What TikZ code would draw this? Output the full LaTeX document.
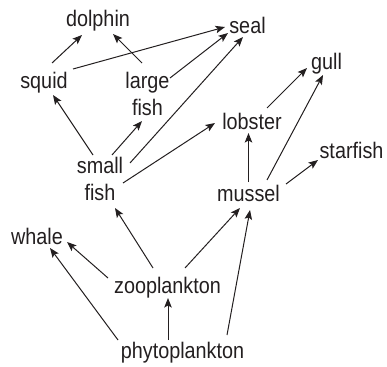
\documentclass[tikz,border=0pt]{standalone}
\usepackage{fontspec}
\newfontfamily\lblfont{Liberation Sans}[FakeStretch=0.88]
\usetikzlibrary{arrows.meta}
\definecolor{ink}{HTML}{231F20}
\tikzset{
  organism/.style={anchor=north, inner sep=0pt, align=center, text=ink,
    font=\lblfont\fontsize{22.5pt}{27pt}\selectfont},
  eats/.style={draw=ink, line width=1pt,
    -{Stealth[length=9.5pt,width=7.5pt,inset=2pt]}}
}
\begin{document}
\begin{tikzpicture}[x=1pt, y=-1pt]
  \useasboundingbox (0,0) rectangle (387,366);
  % organisms (placed by the top of their lettering)
  \node[organism] (dolphin) at (98,10) {dolphin};
  \node[organism] (seal) at (247.5,17) {seal};
  \node[organism] (squid) at (44,72) {squid};
  \node[organism] (largefish) at (147.5,72) {large\\fish};
  \node[organism] (smallfish) at (100,157) {small\\fish};
  \node[organism] (gull) at (326.5,53) {gull};
  \node[organism] (lobster) at (252,113) {lobster};
  \node[organism] (starfish) at (351.5,142) {starfish};
  \node[organism] (mussel) at (248.5,185) {mussel};
  \node[organism] (whale) at (37,228) {whale};
  \node[organism] (zoo) at (167.5,277) {zooplankton};
  \node[organism] (phyto) at (182.5,342) {phytoplankton};
  % feeding links: prey -> predator
  \draw[eats] ([shift={(8,-9)}]squid.north) -- ([shift={(-16,25)}]dolphin.north);
  \draw[eats] ([shift={(-5.5,-9)}]largefish.north) -- ([shift={(15,24)}]dolphin.north);
  \draw[eats] ([shift={(29,-3)}]squid.north) -- ([shift={(-22.5,10)}]seal.north);
  \draw[eats] ([shift={(22.5,6)}]largefish.north) -- ([shift={(-19.5,16)}]seal.north);
  \draw[eats] ([shift={(30,6)}]smallfish.north) -- ([shift={(-4.5,20)}]seal.north);
  \draw[eats] ([shift={(-7,-2)}]smallfish.north) -- ([shift={(9,23)}]squid.north);
  \draw[eats] ([shift={(12,-2)}]smallfish.north) -- ([shift={(-5.5,49)}]largefish.north);
  \draw[eats] ([shift={(23,26)}]smallfish.north) -- ([shift={(-37,10)}]lobster.north);
  \draw[eats] ([shift={(15,-5)}]lobster.north) -- ([shift={(-19.5,15)}]gull.north);
  \draw[eats] ([shift={(18.5,-5)}]mussel.north) -- ([shift={(-3.5,22)}]gull.north);
  \draw[eats] ([shift={(0,-3)}]mussel.north) -- ([shift={(-3.5,20)}]lobster.north);
  \draw[eats] ([shift={(37.5,-1)}]mussel.north) -- ([shift={(-33.5,18)}]starfish.north);
  \draw[eats] ([shift={(-14.5,-9)}]zoo.north) -- ([shift={(15,51)}]smallfish.north);
  \draw[eats] ([shift={(-59.5,1)}]zoo.north) -- ([shift={(30,14)}]whale.north);
  \draw[eats] ([shift={(17.5,-9)}]zoo.north) -- ([shift={(-8.5,23)}]mussel.north);
  \draw[eats] ([shift={(-64.5,-2)}]phyto.north) -- ([shift={(13,20)}]whale.north);
  \draw[eats] ([shift={(-14.5,-2)}]phyto.north) -- ([shift={(0.5,21)}]zoo.north);
  \draw[eats] ([shift={(44.5,-7)}]phyto.north) -- ([shift={(1.5,25)}]mussel.north);
\end{tikzpicture}
\end{document}
